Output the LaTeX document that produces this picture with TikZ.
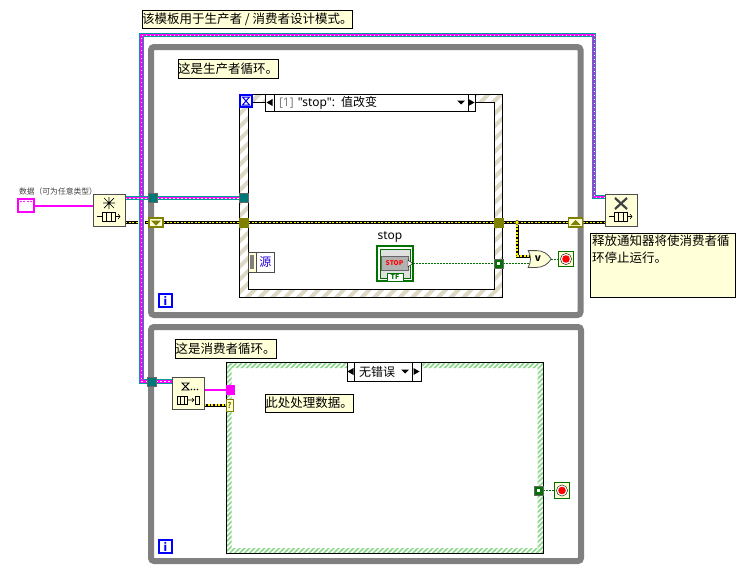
\documentclass[tikz,border=0pt]{standalone}
\usepackage{fontspec}
\setmainfont{Noto Sans CJK SC}
\newfontfamily\latinf{Noto Sans}
\usetikzlibrary{positioning,backgrounds,patterns.meta,shapes.gates.logic.US}
\definecolor{loopgray}{HTML}{808080}
\definecolor{noteyel}{HTML}{FFFFD8}
\definecolor{wteal}{HTML}{00A0A0}
\definecolor{wpink}{HTML}{FF00FF}
\definecolor{tealtun}{HTML}{007878}
\definecolor{olivetun}{HTML}{808000}
\definecolor{dgreen}{HTML}{007000}
\definecolor{ibeige}{HTML}{DDD8C4}
\definecolor{cgreen}{HTML}{90D890}
\definecolor{iblue}{HTML}{0000FF}

\begin{document}
\begin{tikzpicture}[x=1pt,y=-1pt,
      every node/.style={inner sep=0pt, outer sep=0pt},
      note/.style={draw, fill=noteyel, anchor=north west, font=\fontsize{12.5}{17}\selectfont, align=left},
      loopframe/.style={draw=loopgray, line width=6pt, rounded corners=3pt, anchor=north west},
      frameline/.style={draw, anchor=north west, line width=0.9pt},
      funcbox/.style={draw=black!70, fill=noteyel, line width=0.8pt, minimum size=32pt, anchor=north west},
      tunnel/.style={draw=black!60, minimum size=9pt},
      oliver/.style={draw=olivetun, fill=olivetun, minimum size=9pt},
      shiftreg/.style={draw=olivetun, line width=1.6pt, fill=noteyel, minimum width=14pt, minimum height=9pt},
      boolt/.style={draw=black!60, fill=dgreen, minimum size=9pt},
      itag/.style={draw=iblue, line width=1.6pt, fill=white, minimum size=13pt, text=iblue, font=\fontsize{11}{11}\selectfont\bfseries},
      stopterm/.style={draw=dgreen, line width=0.9pt, fill=noteyel, minimum size=15.5pt},
      selcell/.style={draw, fill=white, minimum height=17pt, line width=0.8pt, font=\fontsize{12}{12}\selectfont},
      notifw/.style={preaction={draw=wteal,line width=4.4pt}, draw=wpink, line width=2.6pt,
                     postaction={draw=white,line width=0.8pt,dash pattern=on 1.5pt off 2.5pt}},
      errw/.style={preaction={draw=black,line width=3pt,solid}, draw=yellow, line width=1.6pt, dash pattern=on 2pt off 1.5pt},
      dataw/.style={draw=wpink, line width=2pt},
      boolw/.style={draw=dgreen, line width=1pt, dash pattern=on 2pt off 1pt}
    ]
      \useasboundingbox (0,0) rectangle (743,570);
      % comments
      \node[note, minimum width=208pt, minimum height=18pt] (tmplnote) at (142,10) {该模板用于生产者 / 消费者设计模式。};
      % loops
      \node[loopframe, minimum width=429.5pt, minimum height=268pt] (prodloop) at (151,47) {};
      \node[loopframe, minimum width=430pt, minimum height=234pt] (consloop) at (151,327) {};
      \node[note, minimum width=100pt, minimum height=19pt] (prodnote) at (178,59) {这是生产者循环。};
      \node[note, minimum width=101pt, minimum height=19pt] (consnote) at (175,339) {这是消费者循环。};
      \node[itag] (iprod) at (165.5,300.5) {i};
      \node[itag] (icons) at (165.5,546.5) {i};
      % event structure
      \node[frameline, minimum width=263pt, minimum height=203.5pt] (evt) at (239.5,94) {};
      \node[frameline, minimum width=246pt, minimum height=186.5pt] (evtin) at (248,102.5) {};
      \node[draw=iblue, line width=1.6pt, fill=white, minimum size=12.5pt] (evtimer) at (246,101) {};
      \node[selcell, minimum width=9pt, anchor=north west] (evl) at (265,94) {};
      \node[selcell, minimum width=194pt, right=0pt of evl, align=left, text width=190pt] (evm) {\hspace{3pt}{\latinf\textcolor{black!50}{[1]} \char34 stop\char34 : }值改变};
      \node[selcell, minimum width=7pt, right=0pt of evm] (evr) {};
      \node[draw=black!70, fill=noteyel, minimum width=8pt, minimum height=20pt, anchor=north west, line width=0.8pt] (srcbar) at (248,252) {};
      \node[draw=black!70, fill=white, minimum width=18.5pt, minimum height=20pt, right=0pt of srcbar, text=blue!70!violet, font=\fontsize{12}{12}\selectfont] (src) {源};
      \node[draw=dgreen, line width=1.8pt, fill=white, minimum width=36pt, minimum height=35pt, anchor=north west] (stopctl) at (377,246) {};
      \node[draw=dgreen, line width=0.5pt, fill=black!12, minimum width=30pt, minimum height=29pt, anchor=north west] (stopin) at (380,249) {};
      \node[draw=black!60, fill=black!30, minimum width=27pt, minimum height=14pt, anchor=north west, text=red, font=\fontsize{6.5}{7}\selectfont\bfseries] (stopbtn) at (381,256) {STOP};
      \node[draw=dgreen, fill=white, line width=0.8pt, minimum width=16pt, minimum height=8pt, anchor=north west, text=dgreen, font=\fontsize{7}{7}\selectfont\bfseries] (stoptf) at (387,273) {TF};
      \node[font=\latinf\fontsize{12}{12}\selectfont] (stoplbl) at (390,236.5) {stop};
      % case structure
      \node[frameline, minimum width=317pt, minimum height=191.5pt] (cas) at (226,362) {};
      \node[anchor=north west, minimum width=306pt, minimum height=180pt] (casin) at (231.5,368) {};
      \node[selcell, minimum width=7pt, minimum height=19pt, anchor=north west] (casl) at (347,362) {};
      \node[selcell, minimum width=58pt, minimum height=19pt, right=0pt of casl, align=left, text width=48pt] (casm) {无错误};
      \node[selcell, minimum width=9pt, minimum height=19pt, right=0pt of casm] (casr) {};
      \node[note, minimum width=88pt, minimum height=18pt] (procnote) at (265,394) {此处处理数据。};
      % wire terminals outside and on the frames
      \node[draw=wpink, line width=1.6pt, fill=white, minimum width=16pt, minimum height=13pt] (datactl) at (26,205.5) {};
      \node[font=\fontsize{7.8}{8}\selectfont, text=black!75, anchor=west] (datalbl) at (19,191.5) {数据（可为任意类型）};
      \node[funcbox] (crt) at (93,194) {};
      \node[funcbox] (rel) at (605,194) {};
      \node[funcbox] (deq) at (172,377) {};
      \node[tunnel, fill=tealtun] (tn1) at (152.5,198) {};
      \node[tunnel, fill=tealtun] (tn2) at (243.5,198) {};
      \node[tunnel, fill=tealtun] (tn3) at (151.5,381.5) {};
      \node[shiftreg] (sr1) at (156,222.5) {};
      \node[shiftreg] (sr2) at (575.5,222.5) {};
      \node[oliver] (ol1) at (243.5,222.5) {};
      \node[oliver] (ol2) at (498.5,222.5) {};
      \node[boolt] (bt1) at (498.5,263.5) {};
      \node[boolt] (bt2) at (538.5,490.5) {};
      \node[draw=black, fill=yellow, circle, minimum size=4pt] (jn) at (517,222.5) {};
      \node[or gate US, draw=black!70, fill=noteyel, logic gate inputs=nn, minimum width=22pt, minimum height=16pt, line width=0.8pt, font=\fontsize{10}{10}\selectfont\bfseries] (orgate) at (538,259) {v};
      \node[stopterm] (st1) at (566,259) {};
      \node[stopterm] (st2) at (562,490.5) {};
      \node[draw=wpink, fill=wpink, minimum size=8.5pt] (tp) at (230,389.5) {};
      \node[draw=olivetun, fill=noteyel, minimum width=7.5pt, minimum height=12pt, font=\fontsize{8}{8}\selectfont\bfseries, text=olivetun] (tq) at (229.5,405) {?};
      \coordinate (nt1) at (141.5,35);
      \coordinate (nt2) at (594,35);
      \coordinate (nt3) at (605,197);
      % note under the stop control
      \node[note, text width=141pt, text depth=50pt, inner xsep=2pt, inner ysep=2pt] (relnote) at (590,233) {释放通知器将使消费者循\\环停止运行。};
      % wires
      \begin{scope}[on background layer]
        \path[pattern={Lines[angle=45,distance=9pt,line width=4pt]}, pattern color=ibeige, even odd rule]
          (evt.north west) rectangle (evt.south east) (evtin.north west) rectangle (evtin.south east);
        \path[pattern={Lines[angle=45,distance=3.5pt,line width=1.8pt]}, pattern color=cgreen, even odd rule]
          (cas.north west) rectangle (cas.south east) (casin.north west) rectangle (casin.south east);
        \draw[dataw] (datactl) -- (crt.west |- datactl);
        \draw[errw] (crt.east |- sr1) -- (sr1);
        \draw[errw] (sr1) -- (ol1);
        \draw[errw] (ol1) -- (ol2);
        \draw[errw] (ol2) -- (sr2);
        \draw[errw] (sr2) -- (rel.west |- sr2);
        \draw[errw] (jn) |- (orgate.input 1);
        \draw[errw] (deq.east |- tq) -- (tq);
        \draw[preaction={draw=white,line width=7pt}, notifw] (tn3) -| (nt1) -- (nt2) |- (nt3);
        \draw[notifw] (crt.east |- tn1) -- (tn1);
        \draw[notifw] (tn1) -- (tn2);
        \draw[notifw] (tn3) -- (deq.west |- tn3);
        \draw[dataw] (deq.east |- tp) -- (tp);
        \draw[boolw] (stopctl.east |- bt1) -- (bt1);
        \draw[boolw] (bt1) -- (bt1 -| orgate.input 2);
        \draw[boolw] (orgate.output) -- (st1);
        \draw[boolw] (bt2) -- (st2);
      \end{scope}
      % glyphs
      \foreach \n in {st1,st2} {
        \draw[fill=white] (\n.center) circle (5.6pt);
        \fill[red] (\n.center) circle (3.8pt);
      }
      \foreach \n in {bt1,bt2} \draw[fill=white, draw=white] ([shift={(-1,-1)}]\n.center) rectangle ([shift={(1,1)}]\n.center);
      \foreach \n in {crt,rel} {
        \draw[line width=0.7pt] ([shift={(-7,2)}]\n.center) rectangle ([shift={(6,11)}]\n.center);
        \draw[line width=0.7pt] ([shift={(-3,2)}]\n.center) -- ([shift={(-3,11)}]\n.center) ([shift={(2,2)}]\n.center) -- ([shift={(2,11)}]\n.center);
        \draw[line width=0.6pt] ([shift={(-12,6.5)}]\n.center) -- ([shift={(-7,6.5)}]\n.center) ([shift={(6,6.5)}]\n.center) -- ([shift={(11,6.5)}]\n.center)
          ([shift={(9,4)}]\n.center) -- ([shift={(11,6.5)}]\n.center) -- ([shift={(9,9)}]\n.center);
      }
      \draw[line width=0.7pt] ([shift={(-5,-12)}]crt.center) -- ([shift={(5,-2)}]crt.center) ([shift={(5,-12)}]crt.center) -- ([shift={(-5,-2)}]crt.center)
        ([shift={(0,-13)}]crt.center) -- ([shift={(0,-1)}]crt.center) ([shift={(-6,-7)}]crt.center) -- ([shift={(6,-7)}]crt.center);
      \draw[line width=2.2pt, black!75] ([shift={(-6,-12)}]rel.center) -- ([shift={(6,-1)}]rel.center) ([shift={(6,-12)}]rel.center) -- ([shift={(-6,-1)}]rel.center);
      \draw[line width=0.7pt] ([shift={(-11,3)}]deq.center) rectangle ([shift={(-1,11)}]deq.center) ([shift={(-8,3)}]deq.center) -- ([shift={(-8,11)}]deq.center) ([shift={(-4,3)}]deq.center) -- ([shift={(-4,11)}]deq.center)
        ([shift={(7,3)}]deq.center) rectangle ([shift={(11,11)}]deq.center);
      \draw[line width=0.6pt] ([shift={(-1,7)}]deq.center) -- ([shift={(6,7)}]deq.center) ([shift={(4,5)}]deq.center) -- ([shift={(6,7)}]deq.center) -- ([shift={(4,9)}]deq.center);
      \draw[line width=0.8pt] ([shift={(-6,-10)}]deq.center) -- ([shift={(1,-10)}]deq.center) -- ([shift={(-6,-3)}]deq.center) -- ([shift={(1,-3)}]deq.center) -- cycle;
      \fill ([shift={(3.5,-3.5)}]deq.center) circle (0.8pt) ([shift={(6.5,-3.5)}]deq.center) circle (0.8pt) ([shift={(9.5,-3.5)}]deq.center) circle (0.8pt);
      \draw[iblue, line width=1pt] ([shift={(-3.5,-4)}]evtimer.center) -- ([shift={(3.5,-4)}]evtimer.center) -- ([shift={(-3.5,4)}]evtimer.center) -- ([shift={(3.5,4)}]evtimer.center) -- cycle;
      \fill[olivetun] ([shift={(-5,-2)}]sr1.center) -- ([shift={(5,-2)}]sr1.center) -- ([shift={(0,3)}]sr1.center) -- cycle;
      \fill[olivetun] ([shift={(-5,2.5)}]sr2.center) -- ([shift={(5,2.5)}]sr2.center) -- ([shift={(0,-2.5)}]sr2.center) -- cycle;
      \fill[loopgray] ([shift={(-2,-7)}]srcbar.center) rectangle ([shift={(2,7)}]srcbar.center);
      \fill[white] (stopbtn.east |- bt1) ++(0,-3.5) -- ++(4.5,3.5) -- ++(-4.5,3.5) -- cycle;
      \draw (stopbtn.east |- bt1) ++(0,-3.5) -- ++(4.5,3.5) -- ++(-4.5,3.5) -- cycle;
      \foreach \dx in {-5,-2,2,5} \fill[wpink] ([shift={(\dx,-4)}]datactl.center) circle (0.9pt);
      % selector arrows
      \foreach \n in {evl,casl} \fill ([shift={(3,-3.5)}]\n.center) -- ([shift={(3,3.5)}]\n.center) -- ([shift={(-3,0)}]\n.center) -- cycle;
      \foreach \n in {evr,casr} \fill ([shift={(-3,-3.5)}]\n.center) -- ([shift={(-3,3.5)}]\n.center) -- ([shift={(3,0)}]\n.center) -- cycle;
      \foreach \n in {evm,casm} \fill ([shift={(-11,-2)}]\n.east) -- ([shift={(-3,-2)}]\n.east) -- ([shift={(-7,2)}]\n.east) -- cycle;
    \end{tikzpicture}
\end{document}
